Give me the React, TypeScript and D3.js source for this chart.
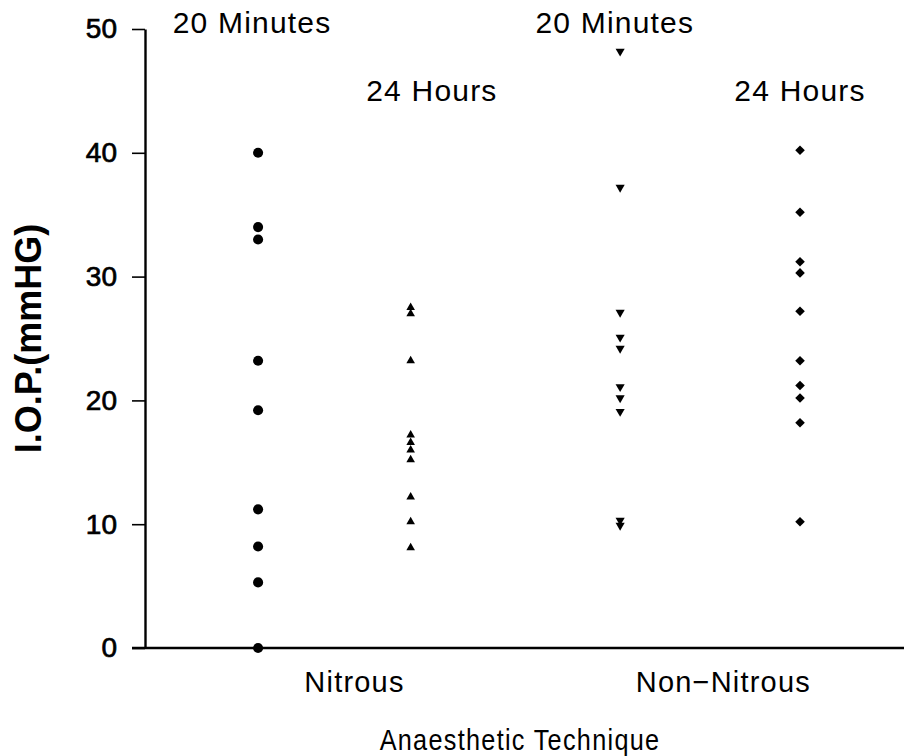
import { useRef, useEffect } from 'react';
import * as d3 from 'd3';

const width = 904;
const height = 756;

// I.O.P. readings (mmHG)
const nitrous20 = [40, 34, 33, 23.2, 19.2, 11.2, 8.2, 5.3, 0];
const nitrous24 = [27.5, 27, 23.2, 17.2, 16.6, 16, 15.2, 12.2, 10.2, 8.1];
const nonNitrous20 = [48.2, 37.2, 27.1, 25.1, 24.2, 21.1, 20.2, 19.1, 10.3, 9.9];
const nonNitrous24 = [40.2, 35.2, 31.2, 30.3, 27.2, 23.2, 21.2, 20.2, 18.2, 10.2];

const groupLabels = ['20 Minutes', '24 Hours', '20 Minutes', '24 Hours'];
const groupSlots = [1.49, 3.5, 6.26, 8.63];
const labelSlots = [1.41, 3.78, 6.19, 8.63];
const categories = ['Nitrous', 'Non\u2212Nitrous'];
const categorySlots = [2.76, 7.62];
const yTicks = [0, 10, 20, 30, 40, 50];

const margin = { left: 145, top: 29, bottom: 108 };

const x = d3.scaleLinear().domain([0, 10]).range([margin.left, width]);
const y = d3.scaleLinear().domain([0, 50]).range([height - margin.bottom, margin.top]);

const font = '"Liberation Sans", Arial, Helvetica, sans-serif';

const App = () => {
  const ref = useRef<SVGSVGElement>(null);

  useEffect(() => {
    const svg = d3.select(ref.current);
    svg.selectAll('*').remove();

    const series = [
      { values: nitrous20, shape: d3.symbolCircle, size: 80, rotate: 0 },
      { values: nitrous24, shape: d3.symbolTriangle, size: 32, rotate: 0 },
      { values: nonNitrous20, shape: d3.symbolTriangle, size: 36, rotate: 180 },
      { values: nonNitrous24, shape: d3.symbolSquare, size: 46, rotate: 45 },
    ];

    // axes
    const yAxis = svg.append('g').attr('transform', `translate(${margin.left},0)`)
      .call(d3.axisLeft(y).tickValues(yTicks).tickSize(13).tickPadding(15).tickSizeOuter(0));
    yAxis.select('.domain').attr('stroke', '#000').attr('stroke-width', 2.4);
    yAxis.selectAll('.tick line').attr('stroke', '#000').attr('stroke-width', 1.6);
    yAxis.selectAll('.tick text')
      .attr('font-family', font)
      .attr('font-size', 28)
      .attr('fill', '#000')
      .attr('stroke', '#000')
      .attr('stroke-width', 0.7);

    svg.append('line')
      .attr('x1', margin.left - 13).attr('x2', width)
      .attr('y1', y(0)).attr('y2', y(0))
      .attr('stroke', '#000').attr('stroke-width', 2.4);

    // points
    series.forEach((s, i) => {
      svg.append('g').selectAll('path')
        .data(s.values)
        .join('path')
        .attr('d', d3.symbol().type(s.shape).size(s.size)())
        .attr('transform', d => `translate(${x(groupSlots[i])},${y(d)}) rotate(${s.rotate})`)
        .attr('fill', '#000');
    });

    // group labels
    svg.append('g').selectAll('text')
      .data(groupLabels)
      .join('text')
      .attr('x', (d, i) => x(labelSlots[i]))
      .attr('y', (d, i) => (i % 2 === 0 ? 33 : 101))
      .attr('text-anchor', 'middle')
      .attr('font-family', font)
      .attr('font-size', 30)
      .attr('letter-spacing', 1.2)
      .attr('fill', '#000')
      .text(d => d);

    // category labels
    svg.append('g').selectAll('text')
      .data(categories)
      .join('text')
      .attr('x', (d, i) => x(categorySlots[i]))
      .attr('y', y(0) + 44)
      .attr('text-anchor', 'middle')
      .attr('font-family', font)
      .attr('font-size', 29)
      .attr('letter-spacing', 1.2)
      .attr('fill', '#000')
      .text(d => d);

    // x title, slightly condensed like the original lettering
    svg.append('text')
      .attr('transform', 'translate(520,750) scale(0.87,1)')
      .attr('text-anchor', 'middle')
      .attr('font-family', font)
      .attr('font-size', 29)
      .attr('letter-spacing', 1.5)
      .attr('fill', '#000')
      .text('Anaesthetic Technique');

    svg.append('text')
      .attr('transform', `translate(41,${(y(0) + y(50)) / 2}) rotate(-90)`)
      .attr('text-anchor', 'middle')
      .attr('font-family', font)
      .attr('font-weight', 'bold')
      .attr('font-size', 36)
      .attr('fill', '#000')
      .text('I.O.P.(mmHG)');
  }, []);

  return (
    <svg ref={ref} width={width} height={height}
      style={{ position: 'absolute', left: 0, top: 0, background: '#fff' }} />
  );
};

export default App;
